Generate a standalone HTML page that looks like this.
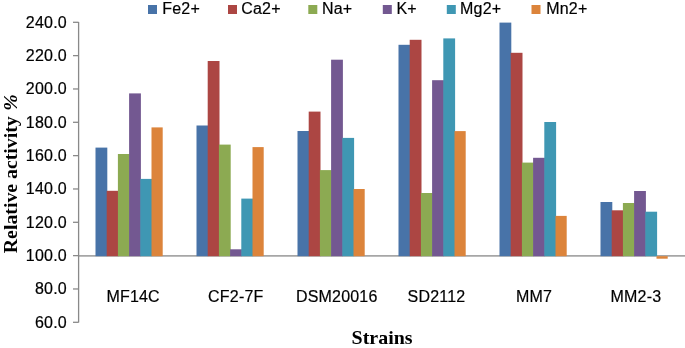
<!DOCTYPE html>
<html><head><meta charset="utf-8"><style>
html,body{margin:0;padding:0;background:#fff;}
body{width:685px;height:348px;overflow:hidden;position:relative;}
svg{position:absolute;left:0;top:0;display:block;will-change:transform;}
.s{font-family:"Liberation Sans",sans-serif;font-size:16px;fill:#000;letter-spacing:0.2px;stroke:#000;stroke-width:0.2px;}
.b{font-family:"Liberation Serif",serif;font-weight:bold;fill:#000;}
</style></head><body>
<svg width="685" height="348" viewBox="0 0 685 348">
<line x1="78.60" y1="255.9" x2="685" y2="255.9" stroke="#a6a6a6" stroke-width="1.6"/>
<rect x="95.50" y="147.60" width="11.80" height="108.60" fill="#4873A8"/>
<rect x="106.70" y="190.80" width="11.80" height="65.40" fill="#AC4643"/>
<rect x="117.90" y="154.00" width="11.80" height="102.20" fill="#8CAA52"/>
<rect x="129.10" y="93.40" width="11.80" height="162.80" fill="#735891"/>
<rect x="140.30" y="178.90" width="11.80" height="77.30" fill="#3F97B3"/>
<rect x="151.50" y="127.40" width="11.20" height="128.80" fill="#DC843B"/>
<rect x="196.50" y="125.50" width="11.80" height="130.70" fill="#4873A8"/>
<rect x="207.70" y="61.00" width="11.80" height="195.20" fill="#AC4643"/>
<rect x="218.90" y="144.60" width="11.80" height="111.60" fill="#8CAA52"/>
<rect x="230.10" y="249.30" width="11.80" height="6.90" fill="#735891"/>
<rect x="241.30" y="198.60" width="11.80" height="57.60" fill="#3F97B3"/>
<rect x="252.50" y="147.10" width="11.20" height="109.10" fill="#DC843B"/>
<rect x="297.50" y="131.00" width="11.80" height="125.20" fill="#4873A8"/>
<rect x="308.70" y="111.60" width="11.80" height="144.60" fill="#AC4643"/>
<rect x="319.90" y="170.10" width="11.80" height="86.10" fill="#8CAA52"/>
<rect x="331.10" y="59.70" width="11.80" height="196.50" fill="#735891"/>
<rect x="342.30" y="137.90" width="11.80" height="118.30" fill="#3F97B3"/>
<rect x="353.50" y="189.00" width="11.20" height="67.20" fill="#DC843B"/>
<rect x="398.50" y="44.80" width="11.80" height="211.40" fill="#4873A8"/>
<rect x="409.70" y="39.80" width="11.80" height="216.40" fill="#AC4643"/>
<rect x="420.90" y="193.00" width="11.80" height="63.20" fill="#8CAA52"/>
<rect x="432.10" y="80.20" width="11.80" height="176.00" fill="#735891"/>
<rect x="443.30" y="38.40" width="11.80" height="217.80" fill="#3F97B3"/>
<rect x="454.50" y="131.10" width="11.20" height="125.10" fill="#DC843B"/>
<rect x="499.50" y="22.60" width="11.80" height="233.60" fill="#4873A8"/>
<rect x="510.70" y="52.80" width="11.80" height="203.40" fill="#AC4643"/>
<rect x="521.90" y="162.60" width="11.80" height="93.60" fill="#8CAA52"/>
<rect x="533.10" y="157.80" width="11.80" height="98.40" fill="#735891"/>
<rect x="544.30" y="122.00" width="11.80" height="134.20" fill="#3F97B3"/>
<rect x="555.50" y="215.90" width="11.20" height="40.30" fill="#DC843B"/>
<rect x="600.50" y="202.00" width="11.80" height="54.20" fill="#4873A8"/>
<rect x="611.70" y="210.30" width="11.80" height="45.90" fill="#AC4643"/>
<rect x="622.90" y="203.00" width="11.80" height="53.20" fill="#8CAA52"/>
<rect x="634.10" y="191.00" width="11.80" height="65.20" fill="#735891"/>
<rect x="645.30" y="211.70" width="11.80" height="44.50" fill="#3F97B3"/>
<rect x="656.50" y="256.20" width="11.20" height="2.50" fill="#DC843B"/>
<line x1="78.60" y1="22" x2="78.60" y2="322.6" stroke="#898989" stroke-width="1.3"/>
<line x1="73" y1="22.30" x2="78.60" y2="22.30" stroke="#898989" stroke-width="1.3"/>
<text class="s" x="66.9" y="27.80" text-anchor="end">240.0</text>
<line x1="73" y1="55.63" x2="78.60" y2="55.63" stroke="#898989" stroke-width="1.3"/>
<text class="s" x="66.9" y="61.13" text-anchor="end">220.0</text>
<line x1="73" y1="88.97" x2="78.60" y2="88.97" stroke="#898989" stroke-width="1.3"/>
<text class="s" x="66.9" y="94.47" text-anchor="end">200.0</text>
<line x1="73" y1="122.30" x2="78.60" y2="122.30" stroke="#898989" stroke-width="1.3"/>
<text class="s" x="66.9" y="127.80" text-anchor="end">180.0</text>
<line x1="73" y1="155.63" x2="78.60" y2="155.63" stroke="#898989" stroke-width="1.3"/>
<text class="s" x="66.9" y="161.13" text-anchor="end">160.0</text>
<line x1="73" y1="188.97" x2="78.60" y2="188.97" stroke="#898989" stroke-width="1.3"/>
<text class="s" x="66.9" y="194.47" text-anchor="end">140.0</text>
<line x1="73" y1="222.30" x2="78.60" y2="222.30" stroke="#898989" stroke-width="1.3"/>
<text class="s" x="66.9" y="227.80" text-anchor="end">120.0</text>
<line x1="73" y1="255.63" x2="78.60" y2="255.63" stroke="#898989" stroke-width="1.3"/>
<text class="s" x="66.9" y="261.13" text-anchor="end">100.0</text>
<line x1="73" y1="288.97" x2="78.60" y2="288.97" stroke="#898989" stroke-width="1.3"/>
<text class="s" x="66.9" y="294.47" text-anchor="end">80.0</text>
<line x1="73" y1="322.30" x2="78.60" y2="322.30" stroke="#898989" stroke-width="1.3"/>
<text class="s" x="66.9" y="327.80" text-anchor="end">60.0</text>
<text class="s" x="106.4" y="302.2">MF14C</text>
<text class="s" x="208.1" y="302.2">CF2-7F</text>
<text class="s" x="295.9" y="302.2">DSM20016</text>
<text class="s" x="407.6" y="302.2">SD2112</text>
<text class="s" x="516.0" y="302.2">MM7</text>
<text class="s" x="610.5" y="302.2">MM2-3</text>
<rect x="148" y="5" width="9" height="9" fill="#4873A8"/>
<text class="s" x="162.3" y="13.6">Fe2+</text>
<rect x="228" y="5" width="9" height="9" fill="#AC4643"/>
<text class="s" x="241.2" y="13.6">Ca2+</text>
<rect x="308.3" y="5" width="9" height="9" fill="#8CAA52"/>
<text class="s" x="321.9" y="13.6">Na+</text>
<rect x="382.8" y="5" width="9" height="9" fill="#735891"/>
<text class="s" x="396.5" y="13.6">K+</text>
<rect x="446.8" y="5" width="9" height="9" fill="#3F97B3"/>
<text class="s" x="460.1" y="13.6">Mg2+</text>
<rect x="531.5" y="5" width="9" height="9" fill="#DC843B"/>
<text class="s" x="546.2" y="13.6">Mn2+</text>
<text class="b" font-size="19" transform="translate(351.6,343.7) scale(1.05,1)">Strains</text>
<text class="b" font-size="19" transform="translate(16.9,253.2) rotate(-90) scale(1.043,1)" x="0" y="0">Relative activity <tspan font-style="italic" dx="0.6">%</tspan></text>
</svg></body></html>
